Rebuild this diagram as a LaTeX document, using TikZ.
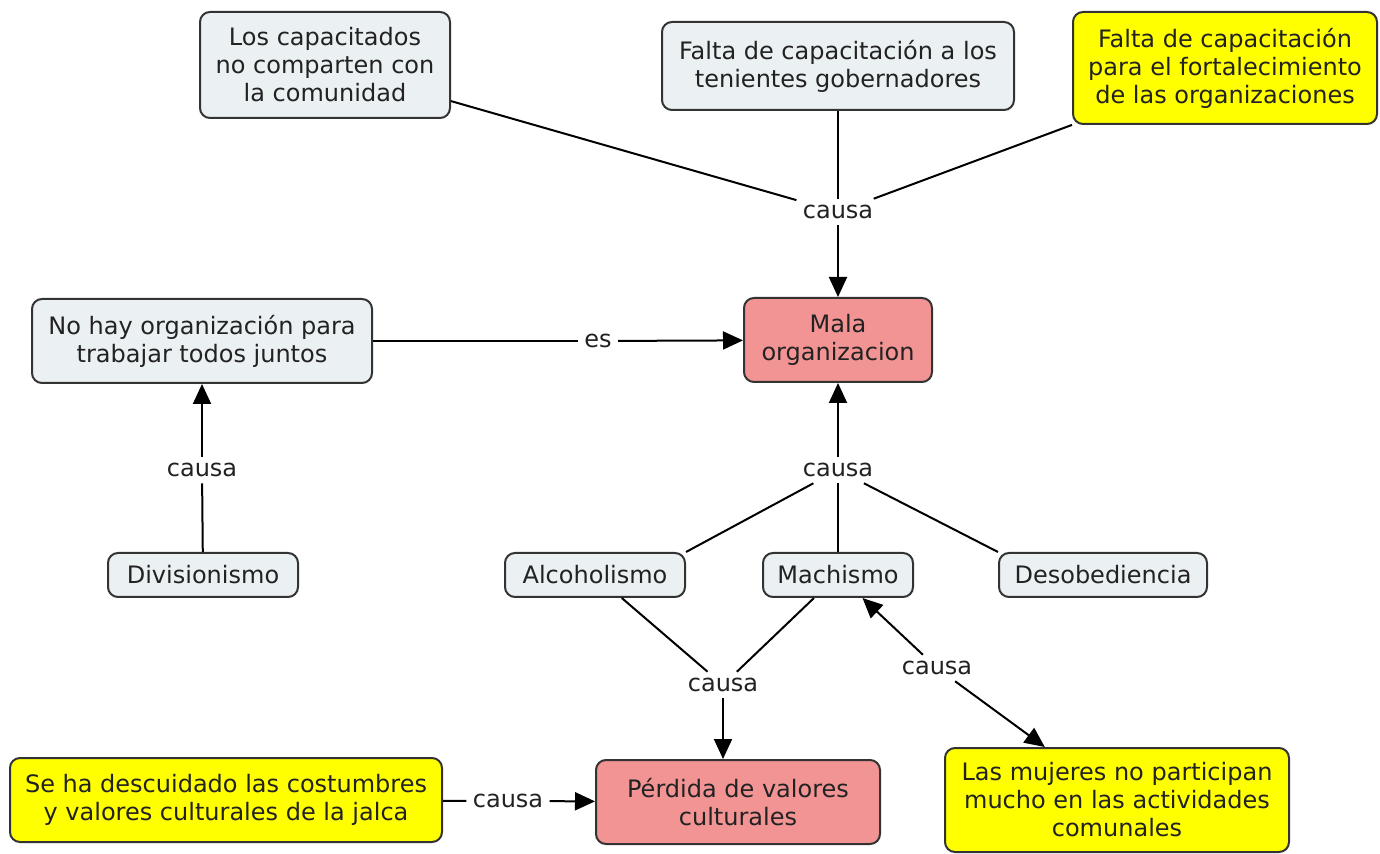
\documentclass[tikz,border=0pt]{standalone}
\usepackage{fontspec}
\setmainfont{DejaVu Sans}
\usetikzlibrary{arrows.meta}
\definecolor{boxgray}{HTML}{EBF0F3}
\definecolor{boxpink}{HTML}{F29494}
\definecolor{boxyellow}{HTML}{FFFF00}
\definecolor{edge}{HTML}{333333}
\definecolor{ink}{HTML}{222222}
\begin{document}
\begin{tikzpicture}[x=0.5pt, y=-0.5pt,
  concept/.style={draw=edge, line width=1pt, rounded corners=5pt, fill=boxgray,
    align=center, text=ink, inner sep=2pt, font=\fontsize{12}{14}\selectfont},
  pinkbox/.style={concept, fill=boxpink},
  yellowbox/.style={concept, fill=boxyellow},
  lbl/.style={fill=white, inner sep=3pt, text=ink, font=\fontsize{12}{14}\selectfont},
  arr/.style={-{Triangle[length=10pt,width=9pt]}, line width=1pt}]
\useasboundingbox (0,0) rectangle (1380,854);

% concepts
\node (capac) [concept, minimum width=125pt, minimum height=53pt] at (325,65)
  {Los capacitados\\no comparten con\\la comunidad};
\node (tenientes) [concept, minimum width=176pt, minimum height=44pt] at (838,66)
  {Falta de capacitación a los\\tenientes gobernadores};
\node (fortal) [yellowbox, minimum width=152pt, minimum height=56pt] at (1225,68)
  {Falta de capacitación\\para el fortalecimiento\\de las organizaciones};
\node (mala) [pinkbox, minimum width=94pt, minimum height=42pt] at (838,340)
  {Mala\\organizacion};
\node (nohay) [concept, minimum width=170pt, minimum height=42pt] at (202,341)
  {No hay organización para\\trabajar todos juntos};
\node (divis) [concept, minimum width=95pt, minimum height=22pt] at (203,575) {Divisionismo};
\node (alcoh) [concept, minimum width=90pt, minimum height=22pt] at (595,575) {Alcoholismo};
\node (mach) [concept, minimum width=75pt, minimum height=22pt] at (838,575) {Machismo};
\node (desob) [concept, minimum width=104pt, minimum height=22pt] at (1103,575) {Desobediencia};
\node (perdida) [pinkbox, minimum width=142pt, minimum height=42pt] at (738,802)
  {Pérdida de valores\\culturales};
\node (mujeres) [yellowbox, minimum width=172pt, minimum height=52pt] at (1117,800)
  {Las mujeres no participan\\mucho en las actividades\\comunales};
\node (descuid) [yellowbox, minimum width=216pt, minimum height=42pt] at (226,800)
  {Se ha descuidado las costumbres\\y valores culturales de la jalca};

% linking phrases
\node (causa1) [lbl] at (838,212) {causa};
\node (es) [lbl] at (598,341) {es};
\node (causa2) [lbl] at (202,470) {causa};
\node (causa3) [lbl] at (838,470) {causa};
\node (causa4) [lbl] at (723,685) {causa};
\node (causa5) [lbl] at (937,668) {causa};
\node (causa6) [lbl] at (508,801) {causa};

% connectors
\draw[line width=1pt] (capac) -- (causa1);
\draw[line width=1pt] (tenientes) -- (causa1);
\draw[line width=1pt] (fortal) -- (causa1);
\draw[arr] (causa1) -- (mala);

\draw[line width=1pt] (nohay) -- (es);
\draw[arr] (es) -- (mala);

\draw[line width=1pt] (divis) -- (causa2);
\draw[arr] (causa2) -- (nohay);

\draw[line width=1pt] (alcoh.north east) -- (causa3);
\draw[line width=1pt] (mach) -- (causa3);
\draw[line width=1pt] (desob.north west) -- (causa3);
\draw[arr] (causa3) -- (mala);

\draw[line width=1pt] (alcoh) -- (causa4);
\draw[line width=1pt] (mach) -- (causa4);
\draw[arr] (causa4) -- (causa4 |- perdida.north);

\draw[arr] (causa5) -- (mach);
\draw[arr] (causa5) -- (mujeres);

\draw[line width=1pt] (descuid) -- (causa6);
\draw[arr] (causa6) -- (perdida);

\end{tikzpicture}
\end{document}
